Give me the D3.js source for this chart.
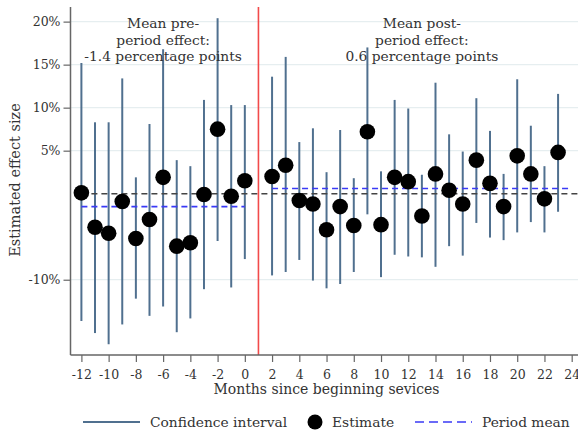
<!DOCTYPE html>
<html><head><meta charset="utf-8">
<script src="https://cdn.jsdelivr.net/npm/d3@7"></script>
<style>
body{margin:0;background:#fff;}
svg{display:block;}
text{font-family:"DejaVu Serif",serif;fill:#333;}
</style></head>
<body><svg id="c" width="578" height="433"></svg>
<script>
const months   = [-12,-11,-10,-9,-8,-7,-6,-5,-4,-3,-2,-1,0, 2,3,4,5,6,7,8,9,10,11,12,13,14,15,16,17,18,19,20,21,22,23];
const estimate = [0.1,-3.9,-4.6,-0.9,-5.2,-3.0,1.9,-6.1,-5.7,-0.1,7.5,-0.3,1.5, 2.0,3.3,-0.8,-1.2,-4.2,-1.5,-3.7,7.2,-3.6,1.9,1.4,-2.6,2.3,0.4,-1.2,3.9,1.2,-1.5,4.4,2.3,-0.6,4.8];
const ciHigh   = [15.2,8.3,8.3,13.4,1.9,8.1,16.8,3.9,3.2,10.9,20.4,10.3,10.3, 13.6,15.9,6.0,7.6,2.5,7.4,1.8,17.0,2.6,10.9,9.9,2.2,12.9,6.9,4.9,11.1,7.3,2.3,13.3,7.9,3.2,11.6];
const ciLow    = [-14.8,-16.2,-17.5,-15.2,-12.2,-14.2,-13.1,-16.1,-14.5,-11.1,-5.5,-10.9,-7.6, -9.5,-9.1,-7.7,-10.1,-11.0,-10.5,-9.1,-2.4,-9.7,-7.1,-7.3,-7.4,-8.5,-6.1,-7.2,-3.4,-5.1,-5.4,-4.5,-3.3,-4.5,-2.1];
const periodMeans = [{from:-12,to:0,value:-1.5},{from:2,to:24,value:0.6}];
const yTicks = [20,15,10,5,-10];
const xTicks = d3.range(-12,25,2);
const notes = [{x:-6,lines:["Mean pre-","period effect:","-1.4 percentage points"]},
               {x:13,lines:["Mean post-","period effect:","0.6 percentage points"]}];
const eventMonth = 1;

const svg = d3.select("#c");
const L=70.5, R=578.5, T=7, B=355;
const x = d3.scaleLinear().domain([-12.8,24.5]).range([L,R]);
const y = d3.scaleLinear().domain([-18.75,21.7]).range([B,T]);
const data = months.map((m,i)=>({m,e:estimate[i],hi:ciHigh[i],lo:ciLow[i]}));

// gridlines
svg.append("g").selectAll("line").data(yTicks).join("line")
  .attr("x1",L).attr("x2",R).attr("y1",d=>y(d)).attr("y2",d=>y(d))
  .attr("stroke","#e6eef0").attr("stroke-width",1.2);

// CI lines
svg.append("g").selectAll("line").data(data).join("line")
  .attr("x1",d=>x(d.m)).attr("x2",d=>x(d.m)).attr("y1",d=>y(d.hi)).attr("y2",d=>y(d.lo))
  .attr("stroke","#50708f").attr("stroke-width",2);

// zero dashed line
svg.append("line").attr("x1",x(-12)).attr("x2",R).attr("y1",y(0)).attr("y2",y(0))
  .attr("stroke","#444").attr("stroke-width",1.6).attr("stroke-dasharray","6,4");

// period means
svg.append("g").selectAll("line").data(periodMeans).join("line")
  .attr("x1",d=>x(d.from)).attr("x2",d=>x(d.to)).attr("y1",d=>y(d.value)).attr("y2",d=>y(d.value))
  .attr("stroke","#3a3af5").attr("stroke-width",1.6).attr("stroke-dasharray","6,4");

// red event line
svg.append("line").attr("x1",x(eventMonth)).attr("x2",x(eventMonth)).attr("y1",T).attr("y2",B)
  .attr("stroke","#f24a4a").attr("stroke-width",1.6);

// points
svg.append("g").selectAll("circle").data(data).join("circle")
  .attr("cx",d=>x(d.m)).attr("cy",d=>y(d.e)).attr("r",7.8).attr("fill","#000");

// axes
const ax = svg.append("g").attr("transform",`translate(0,${B})`)
  .call(d3.axisBottom(x).tickValues(xTicks).tickSize(7).tickPadding(8).tickFormat(d=>d));
const ay = svg.append("g").attr("transform",`translate(${L},0)`)
  .call(d3.axisLeft(y).tickValues(yTicks).tickSize(7).tickPadding(3).tickFormat(d=>d+"%"));
[ax,ay].forEach(a=>{
  a.select(".domain").attr("stroke","#666").attr("stroke-width",1.5);
  a.selectAll(".tick line").attr("stroke","#666").attr("stroke-width",1.2);
  a.selectAll(".tick text").attr("fill","#333").style("font-family","DejaVu Serif").style("font-size","12.5px");
});
ax.select(".domain").attr("d",`M${L},0H${R}`);
ay.select(".domain").attr("d",`M0,${T}V${B}`);

// annotations
notes.forEach(n=>{
  const t = svg.append("text").attr("text-anchor","middle").style("font-size","13.8px");
  n.lines.forEach((s,i)=>t.append("tspan").attr("x",x(n.x)).attr("y",28+i*16.5).text(s));
});

// axis titles
svg.append("text").attr("x",(L+R)/2+2).attr("y",394).attr("text-anchor","middle")
  .style("font-size","14px").text("Months since beginning sevices");
svg.append("text").attr("transform","translate(20,180) rotate(-90)").attr("text-anchor","middle")
  .style("font-size","14.5px").text("Estimated effect size");

// legend
const lg = svg.append("g");
const ly = 422;
lg.append("line").attr("x1",83).attr("x2",140).attr("y1",ly).attr("y2",ly).attr("stroke","#50708f").attr("stroke-width",2);
lg.append("text").attr("x",150).attr("y",ly+5).style("font-size","13.8px").text("Confidence interval");
lg.append("circle").attr("cx",315).attr("cy",ly).attr("r",7.5).attr("fill","#000");
lg.append("text").attr("x",332).attr("y",ly+5).style("font-size","13.8px").text("Estimate");
lg.append("line").attr("x1",415).attr("x2",472).attr("y1",ly).attr("y2",ly).attr("stroke","#3a3af5").attr("stroke-width",1.6).attr("stroke-dasharray","9,5");
lg.append("text").attr("x",482).attr("y",ly+5).style("font-size","13.8px").text("Period mean");
</script></body></html>
